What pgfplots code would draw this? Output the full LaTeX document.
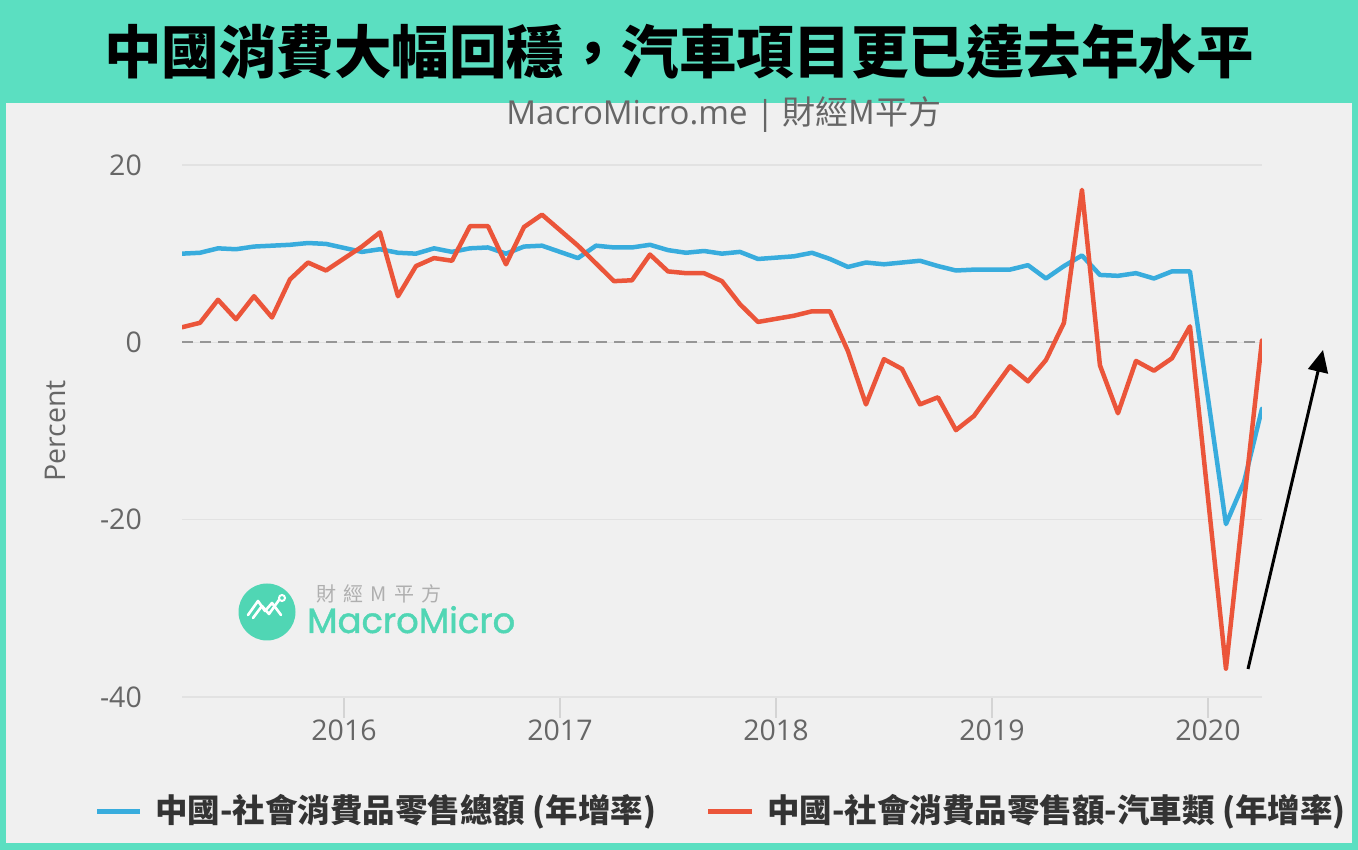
\documentclass[border=0pt]{standalone}
\usepackage{fontspec}
\setmainfont{Open Sans}
\newfontfamily\cjk{Noto Sans CJK TC}
\newfontfamily\pop{Poppins}[FakeBold=1.2]
\usepackage{pgfplots}
\usepackage{pgfplotstable}
\pgfplotsset{compat=1.18}
\usetikzlibrary{arrows.meta}
\definecolor{teal1}{RGB}{91,223,193}
\definecolor{logo}{RGB}{80,214,180}
\definecolor{bg}{RGB}{240,240,240}
\definecolor{blueL}{RGB}{56,172,221}
\definecolor{redL}{RGB}{235,85,58}
\definecolor{txt}{RGB}{102,102,102}
\definecolor{gridc}{RGB}{226,226,226}
\definecolor{axisc}{RGB}{212,212,212}
\definecolor{legtxt}{RGB}{51,51,51}
\definecolor{wmgray}{RGB}{175,175,175}
\definecolor{zeroc}{RGB}{150,150,150}

% x = years since 2015 (month start), January figures are combined with February
\pgfplotstableread{
x y
0.25 10.0
0.3333 10.1
0.4167 10.6
0.5 10.5
0.5833 10.8
0.6667 10.9
0.75 11.0
0.8333 11.2
0.9167 11.1
1.0833 10.2
1.1667 10.5
1.25 10.1
1.3333 10.0
1.4167 10.6
1.5 10.2
1.5833 10.6
1.6667 10.7
1.75 10.0
1.8333 10.8
1.9167 10.9
2.0833 9.5
2.1667 10.9
2.25 10.7
2.3333 10.7
2.4167 11.0
2.5 10.4
2.5833 10.1
2.6667 10.3
2.75 10.0
2.8333 10.2
2.9167 9.4
3.0833 9.7
3.1667 10.1
3.25 9.4
3.3333 8.5
3.4167 9.0
3.5 8.8
3.5833 9.0
3.6667 9.2
3.75 8.6
3.8333 8.1
3.9167 8.2
4.0833 8.2
4.1667 8.7
4.25 7.2
4.3333 8.6
4.4167 9.8
4.5 7.6
4.5833 7.5
4.6667 7.8
4.75 7.2
4.8333 8.0
4.9167 8.0
5.0833 -20.5
5.1667 -15.8
5.25 -7.5
}\total

\pgfplotstableread{
x y
0.25 1.7
0.3333 2.2
0.4167 4.8
0.5 2.6
0.5833 5.2
0.6667 2.8
0.75 7.1
0.8333 9.0
0.9167 8.1
1.0833 10.8
1.1667 12.4
1.25 5.2
1.3333 8.6
1.4167 9.5
1.5 9.2
1.5833 13.1
1.6667 13.1
1.75 8.8
1.8333 13.0
1.9167 14.4
2.0833 10.9
2.1667 8.9
2.25 6.9
2.3333 7.0
2.4167 9.9
2.5 8.0
2.5833 7.8
2.6667 7.8
2.75 6.9
2.8333 4.3
2.9167 2.3
3.0833 3.0
3.1667 3.5
3.25 3.5
3.3333 -1.0
3.4167 -7.0
3.5 -1.9
3.5833 -3.0
3.6667 -7.0
3.75 -6.2
3.8333 -9.9
3.9167 -8.3
4.0833 -2.7
4.1667 -4.4
4.25 -2.0
4.3333 2.2
4.4167 17.2
4.5 -2.6
4.5833 -8.0
4.6667 -2.1
4.75 -3.2
4.8333 -1.8
4.9167 1.8
5.0833 -36.8
5.1667 -18.1
5.25 0.2
}\auto

\begin{document}
\begin{tikzpicture}[x=1pt,y=1pt]
\useasboundingbox (0,0) rectangle (1358,850);
\fill[teal1] (0,0) rectangle (1358,850);
\fill[bg] (6,7) rectangle (1352,747);
% title
\node[anchor=base, inner sep=0pt] at (679,776) {\cjk\bfseries\fontsize{57.5}{60}\selectfont 中國消費大幅回穩，汽車項目更已達去年水平};
% subtitle
\node[anchor=base, inner sep=0pt, text=txt] at (724,725) {\fontsize{33}{35}\selectfont MacroMicro.me | {\cjk 財經M平方}};
% watermark
\fill[logo] (267,238) circle (28.5);
\draw[white, line width=2.6pt, line cap=round, line join=round] (248,235) -- (258,249) -- (265,239) -- (272,247) -- (281,235);
\draw[white, line width=2.6pt, line cap=round, line join=round] (253,232) -- (262,244) -- (269,236) -- (279,250);
\draw[white, line width=2pt] (282,252) circle (3);
\node[anchor=center, inner sep=0pt, text=wmgray] at (379,256) {\cjk\fontsize{20}{22}\selectfont 財\hspace{7pt}經\hspace{7pt}M\hspace{7pt}平\hspace{7pt}方};
\node[anchor=base west, inner sep=0pt, text=logo] at (307,217) {\resizebox{208pt}{!}{\pop\fontsize{34}{36}\selectfont MacroMicro}};
% axis line and ticks
\draw[axisc, line width=2pt] (182,153) -- (1262,153);
\foreach \tk in {344,560,776,992,1208} {\draw[axisc, line width=1.6pt] (\tk,153) -- (\tk,132);}
\begin{axis}[
 scale only axis, width=1080pt, height=532pt,
 at={(182pt,153pt)}, anchor=south west,
 xmin=0.25, xmax=5.25, ymin=-40, ymax=20,
 axis line style={draw=none},
 xtick={1,2,3,4,5},
 xticklabels={2016,2017,2018,2019,2020},
 ytick={-40,-20,0,20},
 yticklabels={-40,-20,0,20},
 major tick length=0pt,
 tick style={draw=none},
 ymajorgrids,
 major grid style={draw=gridc, line width=1.5pt},
 tick label style={font=\fontsize{28.5}{30}\selectfont, text=txt, inner sep=0pt},
 x tick label style={anchor=north, yshift=-23pt},
 y tick label style={anchor=east, xshift=-40pt},
 ylabel={Percent},
 ylabel style={at={(axis description cs:-0.1176,0.5)}, anchor=center, font=\fontsize{28.5}{30}\selectfont, text=txt},
]
\addplot[zeroc, line width=2.2pt, dash pattern=on 11pt off 7pt, forget plot] coordinates {(0.25,0) (5.25,0)};
\addplot[blueL, line width=4.5pt, line join=round, line cap=round] table[x=x,y=y]{\total};
\addplot[redL, line width=4.5pt, line join=round, line cap=round] table[x=x,y=y]{\auto};
\end{axis}
% arrow
\draw[black, line width=3pt, -{Triangle[length=22pt,width=20pt]}] (1248,181) -- (1323,500);
% legend
\draw[blueL, line width=5pt] (97,38) -- (140,38);
\node[anchor=west, inner sep=0pt, text=legtxt] at (155,38) {\cjk\bfseries\fontsize{32.5}{34}\selectfont 中國-社會消費品零售總額 (年增率)};
\draw[redL, line width=5pt] (708,38) -- (752,38);
\node[anchor=west, inner sep=0pt, text=legtxt] at (767,38) {\cjk\bfseries\fontsize{32.5}{34}\selectfont 中國-社會消費品零售額-汽車類 (年增率)};
\end{tikzpicture}
\end{document}
